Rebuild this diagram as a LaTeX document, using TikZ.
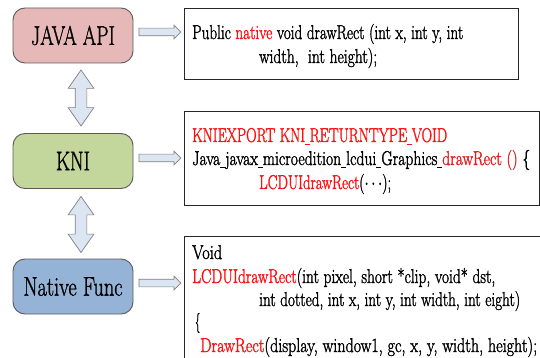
\documentclass[tikz,border=0pt]{standalone}
\usepackage{graphicx}
\usetikzlibrary{shapes.arrows}
\definecolor{javafill}{HTML}{E6B9B8}
\definecolor{knifill}{HTML}{C3D69B}
\definecolor{nativefill}{HTML}{95B3D7}
\definecolor{arrowfill}{HTML}{DCE6F2}
\definecolor{edgegray}{HTML}{5A5A5A}
\definecolor{codered}{HTML}{FF1010}
\definecolor{darkred}{HTML}{E02020}
\newcommand{\rd}[1]{\textcolor{codered}{#1}}
% glyphs filled and outlined, for a heavier stroke
\newcommand{\heavy}[1]{\special{pdf:literal direct 2 Tr 0.35 w}#1\special{pdf:literal direct 0 Tr}}
% a line of text set narrow, to a given width
\newcommand{\fitw}[2]{\resizebox{#1}{\height}{\heavy{#2}}}
% short underscore
\newcommand{\us}{\rule[-2.5pt]{0.32em}{0.5pt}}
\tikzset{
  layer/.style={draw=edgegray, line width=0.9pt, rounded corners=12pt,
    minimum width=120pt, minimum height=55pt, inner sep=0pt,
    font=\fontsize{27}{30}\selectfont},
  codebox/.style={draw=black!85, line width=0.8pt, inner sep=0pt},
  codeline/.style={anchor=base west, inner sep=0pt, font=\fontsize{20}{23}\selectfont},
  harrow/.style={single arrow, draw=black!50, fill=arrowfill, line width=0.7pt,
    minimum height=42pt, inner sep=3.5pt, single arrow head extend=3pt,
    single arrow tip angle=90},
  varrow/.style={double arrow, draw=black!50, fill=arrowfill, line width=0.7pt,
    shape border rotate=90, minimum height=56pt, inner sep=5.5pt,
    double arrow head extend=7pt, double arrow tip angle=70}
}
\begin{document}
\begin{tikzpicture}[x=1pt,y=1pt]
\useasboundingbox (0,0) rectangle (540,-358);
\clip (0,0) rectangle (540,-358);

% layers on the left
\node[layer, fill=javafill] (java) at (73,-35.5) {\fitw{84pt}{JAVA API}};
\node[layer, fill=knifill] (kni) at (73,-161) {\fitw{34pt}{KNI}};
\node[layer, fill=nativefill] (native) at (73,-286.5) {\fitw{99pt}{Native Func}};

% code boxes on the right
\node[codebox, minimum width=334pt, minimum height=71pt] (code1) at (351,-43.5) {};
\node[codebox, minimum width=355pt, minimum height=94pt] (code2) at (361.5,-158) {};
\node[codebox, minimum width=376pt, minimum height=144pt] (code3) at (372,-308) {};

% arrows from each layer to its code
\node[harrow] (a1) at (158,-32) {};
\node[harrow] (a2) at (158,-158) {};
\node[harrow] (a3) at (158,-283) {};

% arrows between the layers
\node[varrow] (v1) at (81,-98) {};
\node[varrow] (v2) at (81,-224.5) {};

% Java declaration
\node[codeline] (c1a) at (192,-39) {\fitw{271pt}{Public \rd{native} void drawRect (int x, int y, int}};
\node[codeline] (c1b) at (259,-63) {\fitw{118pt}{width,\ \ int height);}};

% KNI glue
\node[codeline] (c2a) at (192,-142) {\fitw{255pt}{\rd{KNIEXPORT KNI\us RETURNTYPE\us VOID}}};
\node[codeline] (c2b) at (192,-165) {\fitw{338pt}{Java\us javax\us microedition\us lcdui\us Graphics\us\textcolor{darkred}{drawRect ()} \{}};
\node[codeline] (c2c) at (259,-189) {\fitw{132pt}{\rd{LCDUIdrawRect}($\cdots$);}};

% native implementation
\node[codeline] (c3a) at (192,-259) {\fitw{30pt}{Void}};
\node[codeline] (c3b) at (192,-283) {\fitw{303pt}{\rd{LCDUIdrawRect}(int pixel, short *clip, void* dst,}};
\node[codeline] (c3c) at (259,-306) {\fitw{261pt}{int dotted, int x, int y, int width, int eight)}};
\node[codeline] (c3d) at (195,-328) {\fitw{5pt}{\{}};
\node[codeline] (c3e) at (200,-352) {\fitw{337pt}{\rd{DrawRect}(display, window1, gc, x, y, width, height);}};
\end{tikzpicture}
\end{document}
